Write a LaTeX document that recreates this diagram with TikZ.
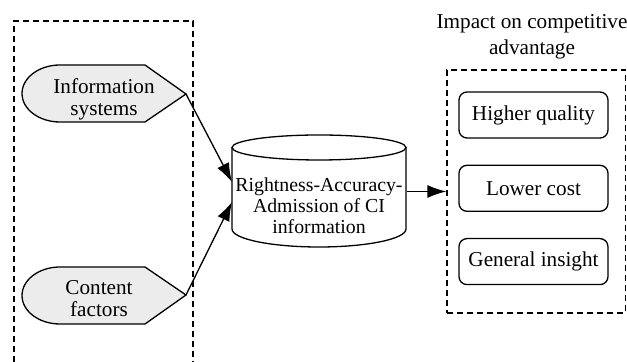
\documentclass[tikz,border=0pt]{standalone}
\usepackage{fontspec}
\setmainfont{Liberation Serif}
\usetikzlibrary{arrows.meta,positioning}

\begin{document}
\begin{tikzpicture}[x=0.5pt,y=-0.5pt,line width=0.65pt,
    font=\fontsize{10.6}{11}\selectfont,
    dispshape/.style={draw,fill=gray!15},
    outbox/.style={draw,rounded corners=4pt,minimum width=74.5pt,minimum height=23pt,inner sep=0pt},
    grpbox/.style={draw,dash pattern=on 3pt off 2pt},
    conn/.style={-{Latex[length=9.5pt,width=6.5pt]}}]
    \useasboundingbox (0,0) rectangle (627,362);

    % left group (runs off the bottom)
    \draw[grpbox] (14,362) -- (14,21) -- (193,21) -- (193,362);

    % display shapes
    \draw[dispshape] (145,65) -- (186,94) -- (145,122) -- (60,122)
        arc[start angle=90,end angle=270,x radius=38,y radius=28.5] -- cycle;
    \draw[dispshape] (145,267) -- (186,295) -- (145,324) -- (60,324)
        arc[start angle=90,end angle=270,x radius=38,y radius=28.5] -- cycle;
    \coordinate (info_tip) at (186,94);
    \coordinate (cont_tip) at (186,295);
    \node[align=center] (info_sys) at (104,99) {Information\\systems};
    \node[align=center] (cont_fac) at (99,299) {Content\\factors};

    % CI store
    \draw[fill=white] (232,147.5) -- (232,229)
        arc[start angle=180,end angle=0,x radius=87,y radius=18] -- (406,147.5);
    \draw[fill=white] (319,147.5) ellipse[x radius=87,y radius=12.5];
    \node[align=center,minimum width=87pt,inner sep=0pt,font=\fontsize{9.9}{10.5}\selectfont]
        (ci_db) at (319,206) {Rightness-Accuracy-\\Admission of CI\\information};
    \coordinate (db_in1) at (232,182);
    \coordinate (db_in2) at (232,202);

    \draw[conn] (info_tip) -- (db_in1);
    \draw[conn] (cont_tip) -- (db_in2);

    % impact group
    \node[align=center,font=\fontsize{10.6}{13}\selectfont] (impact_lbl) at (532,37)
        {Impact on competitive\\advantage};
    \node[grpbox,minimum width=89.25pt,minimum height=121.5pt,inner sep=0pt] (impact_grp) at (536.25,191.5) {};
    \node[outbox] (high_q) at (533.5,115) {Higher quality};
    \node[outbox,below=13pt of high_q] (low_c) {Lower cost};
    \node[outbox,below=13pt of low_c] (gen_ins) {General insight};

    \draw[conn] (ci_db.east |- impact_grp.west) -- (impact_grp.west);
\end{tikzpicture}
\end{document}
